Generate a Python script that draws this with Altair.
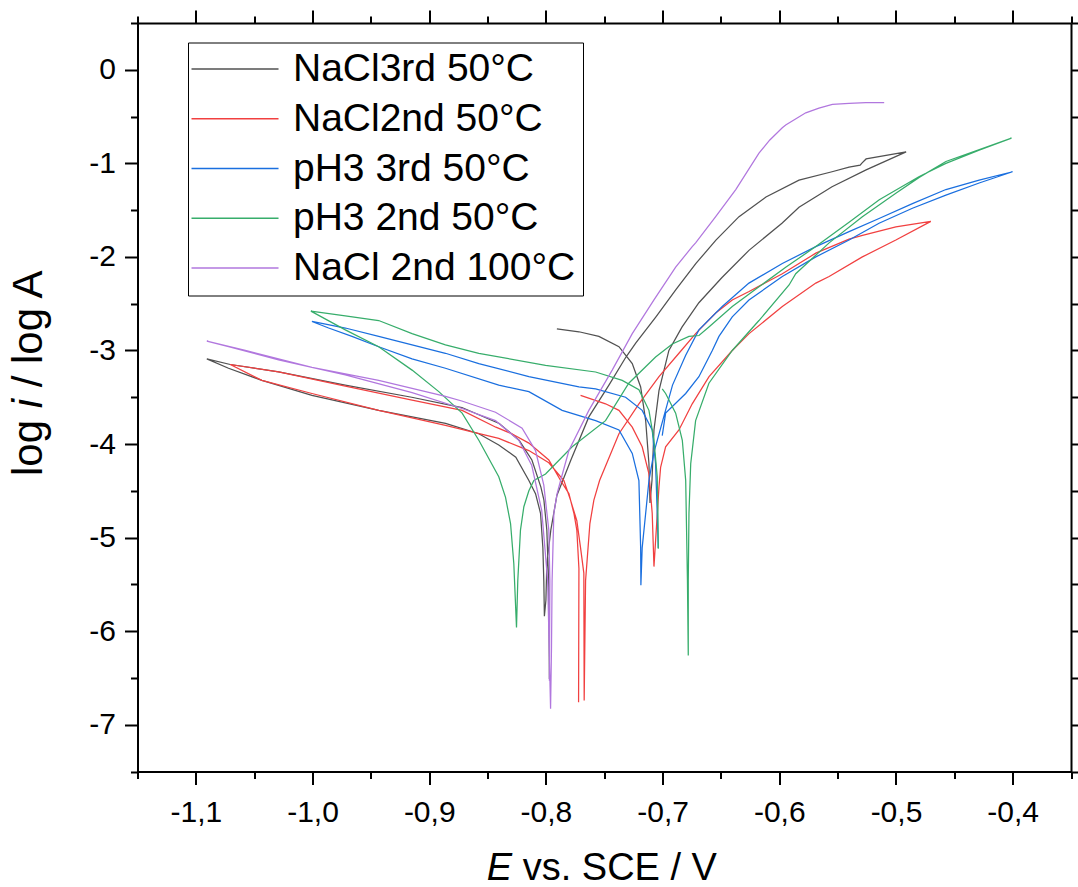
import altair as alt
import pandas as pd

series_names = ["NaCl3rd 50°C", "NaCl2nd 50°C", "pH3 3rd 50°C", "pH3 2nd 50°C", "NaCl 2nd 100°C"]
series_colors = ["#515151", "#F14040", "#1A6FDF", "#37AD6B", "#B177DE"]

# NaCl3rd 50°C
black_E = [-0.797, -0.7975, -0.7992, -0.8017, -0.8043, -0.812, -0.823, -0.840, -0.872, -0.915, -0.972, -1.029, -1.0705, -1.0906,
           -1.072, -1.0434, -1.0005, -0.9433, -0.886, -0.8575, -0.8404, -0.8258, -0.8146, -0.8089, -0.8046, -0.8026, -0.8018, -0.8013,
           -0.800, -0.7992, -0.7958, -0.7906, -0.7786, -0.7632, -0.746, -0.7314, -0.7229, -0.7057, -0.6886, -0.6714, -0.6543, -0.6345,
           -0.6114, -0.5831, -0.5548, -0.5402, -0.5307, -0.529, -0.5256, -0.4913,
           -0.5256, -0.5548, -0.5831, -0.5977, -0.626, -0.6491, -0.6689, -0.6834, -0.6946, -0.7031, -0.7074, -0.7091, -0.7108,
           -0.7117, -0.7145, -0.7188, -0.726, -0.7374, -0.7546, -0.7717, -0.7906]
black_logi = [-6.51, -5.53, -4.92, -4.60, -4.46, -4.17, -3.96, -3.78, -3.61, -3.50, -3.37, -3.23, -3.15, -3.09,
              -3.19, -3.32, -3.48, -3.64, -3.78, -3.89, -4.01, -4.14, -4.39, -4.53, -4.74, -5.11, -5.46, -5.84,
              -5.67, -5.28, -4.92, -4.55, -4.17, -3.71, -3.37, -3.07, -2.92, -2.64, -2.35, -2.07, -1.82, -1.57,
              -1.36, -1.18, -1.09, -1.04, -1.02, -0.995, -0.953, -0.878,
              -1.07, -1.25, -1.47, -1.64, -1.93, -2.22, -2.49, -2.75, -3.00, -3.43, -3.85, -4.39, -4.63,
              -4.21, -3.75, -3.39, -3.14, -2.96, -2.85, -2.80, -2.77]

# NaCl2nd 50°C
red_E = [-0.772, -0.7717, -0.7735, -0.776, -0.7803, -0.7874, -0.7975, -0.8146, -0.8292, -0.8429, -0.8718, -0.9147, -0.9719, -1.0291, -1.0705,
         -1.0434, -1.0005, -0.9433, -0.8861, -0.8633, -0.8404, -0.8146, -0.7975, -0.7846, -0.7789, -0.7735, -0.7703, -0.7675, -0.7672,
         -0.766, -0.7623, -0.7589, -0.754, -0.7374, -0.7203, -0.7031, -0.686, -0.6717, -0.6545, -0.6403, -0.6259, -0.5974, -0.5687,
         -0.5402, -0.5287, -0.5001, -0.4701,
         -0.5001, -0.5288, -0.5573, -0.5687, -0.5974, -0.6259, -0.6403, -0.6602, -0.6746, -0.686, -0.6974, -0.7017, -0.7031, -0.7074,
         -0.7089, -0.7117, -0.7175, -0.726, -0.7374, -0.7489, -0.7703]
red_logi = [-6.76, -5.33, -4.92, -4.74, -4.53, -4.39, -4.17, -3.99, -3.89, -3.82, -3.64, -3.53, -3.38, -3.23, -3.15,
            -3.32, -3.46, -3.64, -3.80, -3.87, -3.94, -4.07, -4.20, -4.39, -4.60, -4.82, -5.11, -5.38, -6.74,
            -5.46, -4.85, -4.60, -4.39, -3.89, -3.57, -3.28, -3.03, -2.82, -2.60, -2.46, -2.37, -2.18, -1.96,
            -1.81, -1.77, -1.68, -1.62,
            -1.82, -2.00, -2.21, -2.28, -2.53, -2.82, -3.00, -3.28, -3.57, -3.85, -4.03, -4.25, -4.46, -5.31,
            -4.74, -4.32, -4.03, -3.82, -3.64, -3.57, -3.48]

# pH3 3rd 50°C
blue_E = [-0.7037, -0.7046, -0.706, -0.7089, -0.7175, -0.7317, -0.7574, -0.7717, -0.8146, -0.8575, -0.8861, -0.9147, -0.9433, -0.9719, -1.0005,
          -0.9862, -0.9662, -0.9433, -0.9147, -0.8861, -0.8404, -0.8146, -0.7861, -0.7574, -0.7374, -0.726, -0.7203, -0.7188, -0.7186,
          -0.7175, -0.7145, -0.7117, -0.7074, -0.6999, -0.6915, -0.6802, -0.6689, -0.6489, -0.626, -0.5974, -0.5687, -0.5402, -0.5145,
          -0.4859, -0.4572, -0.4287, -0.4001,
          -0.4287, -0.4572, -0.4859, -0.5145, -0.5402, -0.5687, -0.5974, -0.626, -0.6403, -0.6517, -0.6574, -0.6689, -0.6802, -0.6974, -0.7003]
blue_logi = [-5.11, -4.74, -4.21, -3.85, -3.64, -3.50, -3.41, -3.39, -3.28, -3.14, -3.03, -2.94, -2.85, -2.76, -2.69,
             -2.76, -2.85, -2.96, -3.09, -3.19, -3.37, -3.44, -3.64, -3.75, -3.85, -4.10, -4.39, -5.11, -5.51,
             -5.11, -4.74, -4.39, -4.09, -3.75, -3.37, -3.05, -2.78, -2.53, -2.28, -2.07, -1.89, -1.73, -1.59,
             -1.43, -1.28, -1.18, -1.09,
             -1.21, -1.34, -1.48, -1.64, -1.82, -2.00, -2.21, -2.46, -2.64, -2.85, -3.00, -3.28, -3.46, -3.67, -3.91]

# pH3 2nd 50°C
green_E = [-0.7037, -0.704, -0.7046, -0.7074, -0.7117, -0.7203, -0.7346, -0.7574, -0.8003, -0.8575, -0.8861, -0.9147, -0.9433, -0.9719, -1.0014,
           -0.9719, -0.9433, -0.9147, -0.8918, -0.8718, -0.8575, -0.8404, -0.8346, -0.8303, -0.8275, -0.8252,
           -0.8241, -0.8218, -0.8189, -0.8146, -0.8103, -0.8003, -0.7775, -0.7489, -0.729, -0.706, -0.6917, -0.6774, -0.6688,
           -0.6603, -0.6403, -0.6174, -0.5945, -0.5687, -0.5402, -0.5143, -0.48, -0.4572, -0.4287, -0.401,
           -0.4572, -0.4801, -0.5001, -0.5288, -0.5573, -0.5859, -0.5916, -0.6174, -0.6403, -0.6603, -0.6717, -0.6759, -0.6774, -0.678, -0.678,
           -0.6787, -0.6802, -0.6831, -0.6888, -0.6974, -0.7003]
green_logi = [-5.12, -4.74, -4.35, -3.96, -3.64, -3.42, -3.32, -3.23, -3.16, -3.03, -2.94, -2.82, -2.68, -2.63, -2.58,
              -2.78, -2.96, -3.21, -3.44, -3.67, -3.96, -4.35, -4.57, -4.85, -5.28, -5.96,
              -5.46, -4.92, -4.67, -4.50, -4.39, -4.32, -4.03, -3.75, -3.35, -3.07, -2.93, -2.85, -2.84,
              -2.75, -2.53, -2.32, -2.11, -1.89, -1.63, -1.39, -1.14, -1.00, -0.86, -0.73,
              -0.98, -1.15, -1.32, -1.57, -1.85, -2.18, -2.30, -2.68, -3.00, -3.35, -3.75, -4.21, -4.74, -5.46, -6.26,
              -5.46, -4.39, -3.96, -3.67, -3.46, -3.41]

# NaCl 2nd 100°C
purple_E = [-0.797, -0.7966, -0.7975, -0.8018, -0.8089, -0.8204, -0.8432, -0.8721, -0.8861, -0.9433, -1.0005, -1.0576, -1.0906,
            -1.072, -1.0291, -0.9719, -0.9147, -0.8718, -0.8432, -0.8232, -0.8121, -0.8036, -0.7985, -0.796,
            -0.7952, -0.7947, -0.7932, -0.7904, -0.7874, -0.7803, -0.7632, -0.7432, -0.726, -0.7074, -0.6888, -0.6746, -0.6717,
            -0.6545, -0.6373, -0.6174, -0.6081, -0.5974, -0.5945, -0.5773, -0.566, -0.5545, -0.5402, -0.5258, -0.5101]
purple_logi = [-6.53, -5.46, -4.92, -4.44, -4.07, -3.83, -3.66, -3.54, -3.49, -3.32, -3.18, -3.00, -2.90,
               -2.96, -3.10, -3.26, -3.45, -3.62, -3.75, -3.96, -4.23, -4.71, -5.46, -6.83,
               -6.17, -5.46, -4.74, -4.53, -4.39, -4.07, -3.64, -3.21, -2.82, -2.46, -2.11, -1.89, -1.85,
               -1.57, -1.28, -0.89, -0.75, -0.62, -0.59, -0.46, -0.41, -0.37, -0.36, -0.35, -0.35]

x_tick_values = [-1.15, -1.1, -1.05, -1.0, -0.95, -0.9, -0.85, -0.8, -0.75, -0.7, -0.65, -0.6, -0.55, -0.5, -0.45, -0.4, -0.35]
y_tick_values = [-7.5, -7.0, -6.5, -6.0, -5.5, -5.0, -4.5, -4.0, -3.5, -3.0, -2.5, -2.0, -1.5, -1.0, -0.5, 0.0, 0.5]

rows = []
for name, es, ls in zip(series_names, [black_E, red_E, blue_E, green_E, purple_E],
                        [black_logi, red_logi, blue_logi, green_logi, purple_logi]):
    for k, (e, l) in enumerate(zip(es, ls)):
        rows.append({"series": name, "E": e, "logi": l, "idx": k})
df = pd.DataFrame(rows)

FONT = "Liberation Sans"
W, H = 933.5, 748.5

x_major = "abs(datum.value*10 - round(datum.value*10)) < 0.001"
y_major = "abs(datum.value - round(datum.value)) < 0.001"

x_scale = alt.Scale(domain=[-1.15, -0.35], nice=False, zero=False)
y_scale = alt.Scale(domain=[-7.5, 0.5], nice=False, zero=False)


def make_axis(orient, values, test, labels, label_expr=None, pad=10):
    kw = dict(orient=orient, values=values, title=None, grid=False,
              domainColor="black", domainWidth=2, tickColor="black", tickWidth=2,
              tickSize={"condition": {"test": test, "value": 13}, "value": 7},
              labels=labels)
    if labels:
        kw.update(labelExpr=label_expr, labelFont=FONT, labelFontSize=30, labelColor="black",
                  labelPadding=pad, labelOverlap=False, labelFlush=False)
    return alt.Axis(**kw)


x_label_expr = (x_major + " ? (datum.value < 0 ? '-' : '') + "
                "replace(format(abs(datum.value), '.1f'), '.', ',') : ''")
y_label_expr = (y_major + " ? (datum.value < -0.01 ? '-' : '') + "
                "format(abs(datum.value), '.0f') : ''")

legend = alt.Legend(orient="none", legendX=50.5, legendY=19.5, title=None,
                    symbolType="M-2.09,0H5.82", symbolSize=484, symbolStrokeWidth=1.3,
                    labelFont=FONT, labelFontSize=39, labelColor="black", labelLimit=600,
                    labelOffset=59, padding=7, strokeColor="black", fillColor="white",
                    rowPadding=9.75)

lines = alt.Chart(df).mark_line(strokeWidth=1.25).encode(
    x=alt.X("E:Q", scale=x_scale, axis=make_axis("bottom", x_tick_values, x_major, True, x_label_expr, 13)),
    y=alt.Y("logi:Q", scale=y_scale, axis=make_axis("left", y_tick_values, y_major, True, y_label_expr, 9)),
    color=alt.Color("series:N", scale=alt.Scale(domain=series_names, range=series_colors), legend=legend),
    order=alt.Order("idx:Q"),
)

frame = alt.Chart(df).mark_line(opacity=0).encode(
    x=alt.X("E:Q", scale=x_scale, axis=make_axis("top", x_tick_values, x_major, False)),
    y=alt.Y("logi:Q", scale=y_scale, axis=make_axis("right", y_tick_values, y_major, False)),
    detail="series:N",
    order=alt.Order("idx:Q"),
)

x_title_E = alt.Chart(pd.DataFrame({"t": ["E"]})).mark_text(
    font=FONT, fontSize=38, fontStyle="italic", align="right", baseline="alphabetic", color="black"
).encode(x=alt.value(374.6), y=alt.value(857), text="t:N")
x_title_rest = alt.Chart(pd.DataFrame({"t": ["vs. SCE / V"]})).mark_text(
    font=FONT, fontSize=38, align="left", baseline="alphabetic", color="black"
).encode(x=alt.value(385.2), y=alt.value(857), text="t:N")

YF = 42
y_base = -95.5
y_log = alt.Chart(pd.DataFrame({"t": ["log"]})).mark_text(
    font=FONT, fontSize=YF, align="left", baseline="alphabetic", angle=270, color="black"
).encode(x=alt.value(y_base), y=alt.value(453), text="t:N")
y_i = alt.Chart(pd.DataFrame({"t": ["i"]})).mark_text(
    font=FONT, fontSize=YF, fontStyle="italic", align="left", baseline="alphabetic", angle=270, color="black"
).encode(x=alt.value(y_base), y=alt.value(453 - 1.612 * YF), text="t:N")
y_rest = alt.Chart(pd.DataFrame({"t": ["/ log A"]})).mark_text(
    font=FONT, fontSize=YF, align="left", baseline="alphabetic", angle=270, color="black"
).encode(x=alt.value(y_base), y=alt.value(453 - 1.612 * YF - 0.5 * YF), text="t:N")

chart = alt.layer(lines, frame, x_title_E, x_title_rest, y_log, y_i, y_rest).resolve_axis(
    x="independent", y="independent"
).properties(
    width=W, height=H,
    padding={"left": 137.5, "top": 23, "right": 7, "bottom": 115.5},
    autosize=alt.AutoSizeParams(type="none"),
).configure_view(stroke=None)

chart.save("out.html", embed_options={"renderer": "svg", "actions": False})
